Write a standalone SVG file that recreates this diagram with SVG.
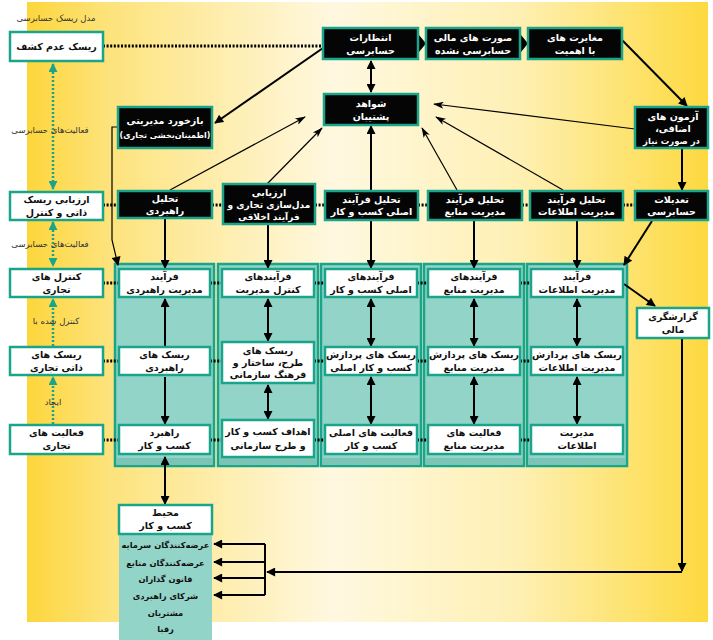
<svg xmlns="http://www.w3.org/2000/svg" width="713" height="640" viewBox="0 0 713 640">
<defs>
<linearGradient id="bg" x1="0" y1="0" x2="1" y2="0">
<stop offset="0" stop-color="#fdd63c"/>
<stop offset="0.12" stop-color="#fde37c"/>
<stop offset="0.45" stop-color="#fff8e0"/>
<stop offset="0.72" stop-color="#fef0b4"/>
<stop offset="1" stop-color="#fdd93f"/>
</linearGradient>
<marker id="ah" viewBox="0 0 10 10" refX="9" refY="5" markerUnits="userSpaceOnUse" markerWidth="10" markerHeight="9" orient="auto-start-reverse"><path d="M0,0 L10,5 L0,10 z" fill="#000"/></marker>
<marker id="ahs" viewBox="0 0 12 8" refX="11" refY="4" markerUnits="userSpaceOnUse" markerWidth="13" markerHeight="7" orient="auto-start-reverse"><path d="M0,0 L12,4 L0,8 L3,4 z" fill="#000"/></marker>
<marker id="aht" viewBox="0 0 10 10" refX="9" refY="5" markerUnits="userSpaceOnUse" markerWidth="9" markerHeight="9" orient="auto-start-reverse"><path d="M0,0 L10,5 L0,10 z" fill="#1aa58a"/></marker>
<style>
text{font-family:"DejaVu Sans",sans-serif;font-weight:bold;text-anchor:middle;direction:rtl;unicode-bidi:embed}
.tw{fill:#fff;font-size:9.5px}
.tb{fill:#111;font-size:9.5px}
.ls{fill:#111;font-size:8.3px}
.lb{fill:#333;font-size:8.5px;font-weight:normal}
.bk{fill:#050505;stroke:#1aa58a;stroke-width:2.5}
.wh{fill:#fff;stroke:#1aa58a;stroke-width:2.5}
.col{fill:#93d4c8;stroke:#1aa58a;stroke-width:2.5}
.ln{fill:none;stroke:#000;stroke-width:2}
.thin{fill:none;stroke:#000;stroke-width:1.2}
.dot{fill:none;stroke:#000;stroke-width:3;stroke-dasharray:2 1.6}
.tdot{fill:none;stroke:#1aa58a;stroke-width:2.5;stroke-dasharray:2 2}
</style>
</defs>
<rect x="0" y="0" width="713" height="640" fill="#fff"/>
<rect x="27" y="2" width="681" height="620" fill="url(#bg)"/>

<g id="columns">
<rect class="col" x="115" y="264" width="99" height="202"/>
<rect class="col" x="218" y="264" width="100" height="202"/>
<rect class="col" x="321" y="264" width="100" height="202"/>
<rect class="col" x="424" y="264" width="100" height="202"/>
<rect class="col" x="527" y="264" width="100" height="202"/>
<rect x="116.5" y="458" width="96" height="6.5" fill="#7cc4b6"/>
<rect x="219.5" y="458" width="97" height="6.5" fill="#7cc4b6"/>
<rect x="322.5" y="458" width="97" height="6.5" fill="#7cc4b6"/>
<rect x="425.5" y="458" width="97" height="6.5" fill="#7cc4b6"/>
<rect x="528.5" y="458" width="97" height="6.5" fill="#7cc4b6"/>
</g>

<g id="connectors">
<path class="dot" d="M103,46 H323"/>
<path class="dot" d="M103,205 H118 M212,205 H223 M315,205 H325 M418,205 H428 M522,205 H530 M623,205 H635"/>
<path class="dot" d="M103,283 H119 M210,283 H222 M314,283 H325 M417,283 H428 M520,283 H531"/>
<path class="dot" d="M103,361 H119 M210,361 H222 M314,361 H325 M417,361 H428 M520,361 H531"/>
<path class="dot" d="M103,440 H119 M210,440 H222 M314,440 H325 M417,440 H428 M520,440 H531"/>
<path class="tdot" d="M53,64 V189" marker-start="url(#aht)" marker-end="url(#aht)"/>
<path class="tdot" d="M53,222 V266" marker-start="url(#aht)" marker-end="url(#aht)"/>
<path class="tdot" d="M53,346 V299" marker-end="url(#aht)"/>
<path class="tdot" d="M53,424 V377" marker-end="url(#aht)"/>
<polygon points="419,35 426,43.5 419,52" fill="#000"/>
<polygon points="521,35 528,43.5 521,52" fill="#000"/>
<path class="ln" d="M323,48 L215,123" marker-end="url(#ah)"/>
<path class="thin" d="M118,127 H112 V240 L118,265" marker-end="url(#ah)"/>
<path class="ln" d="M371,61 V92" marker-start="url(#ah)" marker-end="url(#ah)"/>
<path class="ln" d="M622,40 L687,106" marker-end="url(#ah)"/>
<path class="thin" d="M635,129 L434,104" marker-end="url(#ahs)"/>
<path class="ln" d="M682,149 V190" marker-end="url(#ah)"/>
<path class="ln" d="M652,221 L624,265" marker-end="url(#ah)"/>
<path class="thin" d="M170,190 L305,117" marker-end="url(#ahs)"/>
<path class="thin" d="M267,184 L322,128" marker-end="url(#ahs)"/>
<path class="ln" d="M371,190 V126" marker-end="url(#ah)"/>
<path class="thin" d="M457,190 L422,128" marker-end="url(#ahs)"/>
<path class="thin" d="M563,190 L436,117" marker-end="url(#ahs)"/>
<path class="ln" d="M165,218 V268" marker-end="url(#ah)"/>
<path class="ln" d="M268,225 V268" marker-end="url(#ah)"/>
<path class="ln" d="M371,221 V268" marker-end="url(#ah)"/>
<path class="ln" d="M474,221 V268" marker-end="url(#ah)"/>
<path class="ln" d="M577,221 V268" marker-end="url(#ah)"/>
<path class="ln" d="M165,299 V346 M165,377 V424" marker-start="url(#ah)" marker-end="url(#ah)"/>
<path class="ln" d="M268,299 V341" marker-start="url(#ah)" marker-end="url(#ah)"/>
<path class="ln" d="M268,385 V419" marker-start="url(#ah)" marker-end="url(#ah)"/>
<path class="ln" d="M371,299 V346" marker-start="url(#ah)" marker-end="url(#ah)"/>
<path class="ln" d="M371,377 V424" marker-start="url(#ah)" marker-end="url(#ah)"/>
<path class="ln" d="M474,299 V346" marker-start="url(#ah)" marker-end="url(#ah)"/>
<path class="ln" d="M474,377 V424" marker-start="url(#ah)" marker-end="url(#ah)"/>
<path class="ln" d="M577,299 V346" marker-start="url(#ah)" marker-end="url(#ah)"/>
<path class="ln" d="M577,377 V424" marker-start="url(#ah)" marker-end="url(#ah)"/>
<path class="ln" d="M165,457 V504" marker-start="url(#ah)" marker-end="url(#ah)"/>
<path class="ln" d="M624,284 L655,306" marker-end="url(#ah)"/>
<path class="ln" d="M682,339 V571" marker-end="url(#ah)"/>
<path class="ln" d="M682,572 H267" marker-end="url(#ah)"/>
<path class="ln" d="M265,544 V595"/>
<path class="ln" d="M265,544 H214" marker-end="url(#ah)"/>
<path class="ln" d="M265,562 H214" marker-end="url(#ah)"/>
<path class="ln" d="M265,578 H214" marker-end="url(#ah)"/>
<path class="ln" d="M265,595 H214" marker-end="url(#ah)"/>
</g>

<g id="labels">
<text class="lb" x="56" y="21">مدل ریسک حسابرسی</text>
<text class="lb" x="50" y="133">فعالیت‌های حسابرسی</text>
<text class="lb" x="50" y="247">فعالیت‌های حسابرسی</text>
<text class="lb" x="56" y="324">کنترل شده با</text>
<text class="lb" x="53" y="405">ایجاد</text>
</g>

<g id="n-detect"><rect class="wh" x="10" y="32" width="93" height="29"/><text class="tb" x="56.5" y="50">ریسک عدم کشف</text></g>
<g id="n-assess"><rect class="wh" x="10" y="192" width="93" height="28"/><text class="tb" x="56.5" y="203">ارزیابی ریسک</text><text class="tb" x="56.5" y="216">ذاتی و کنترل</text></g>
<g id="n-controls"><rect class="wh" x="10" y="269" width="93" height="28"/><text class="tb" x="56.5" y="280">کنترل های</text><text class="tb" x="56.5" y="293">تجاری</text></g>
<g id="n-inherent"><rect class="wh" x="10" y="347" width="93" height="28"/><text class="tb" x="56.5" y="358">ریسک های</text><text class="tb" x="56.5" y="371">ذاتی تجاری</text></g>
<g id="n-activities"><rect class="wh" x="10" y="425" width="93" height="29"/><text class="tb" x="56.5" y="436">فعالیت های</text><text class="tb" x="56.5" y="449">تجاری</text></g>

<g id="n-expect"><rect class="bk" x="323" y="28" width="95" height="31"/><text class="tw" x="370.5" y="41">انتظارات</text><text class="tw" x="370.5" y="54">حسابرسی</text></g>
<g id="n-fs"><rect class="bk" x="426" y="28" width="94" height="31"/><text class="tw" x="473" y="41">صورت های مالی</text><text class="tw" x="473" y="54">حسابرسی نشده</text></g>
<g id="n-misstate"><rect class="bk" x="528" y="28" width="94" height="31"/><text class="tw" x="575" y="41">مغایرت های</text><text class="tw" x="575" y="54">با اهمیت</text></g>
<g id="n-evidence"><rect class="bk" x="324" y="94" width="94" height="31"/><text class="tw" x="371" y="107">شواهد</text><text class="tw" x="371" y="120">پشتیبان</text></g>
<g id="n-tests"><rect class="bk" x="635" y="107" width="73" height="41"/><text class="tw" x="673" y="120">آزمون های</text><text class="tw" x="673" y="132">اضافی،</text><text class="tw" x="671.5" y="144" style="font-size:8.5px">در صورت نیاز</text></g>
<g id="n-feedback"><rect class="bk" x="118" y="107" width="94" height="41"/><text class="tw" x="165" y="124">بازخورد مدیریتی</text><text class="tw" x="165" y="138" style="font-size:8px">(اطمینان‌بخشی تجاری)</text></g>

<g id="n-a-strategic"><rect class="bk" x="118" y="191" width="94" height="27"/><text class="tw" x="165" y="202">تحلیل</text><text class="tw" x="165" y="214">راهبردی</text></g>
<g id="n-a-model"><rect class="bk" x="223" y="184" width="92" height="40"/><text class="tw" x="269" y="196">ارزیابی</text><text class="tw" x="269" y="208" style="font-size:9px">مدل‌سازی تجاری و</text><text class="tw" x="269" y="220" style="font-size:9px">فرآیند اخلاقی</text></g>
<g id="n-a-core"><rect class="bk" x="325" y="191" width="93" height="29"/><text class="tw" x="371.5" y="203">تحلیل فرآیند</text><text class="tw" x="371.5" y="215">اصلی کسب و کار</text></g>
<g id="n-a-resource"><rect class="bk" x="428" y="191" width="94" height="29"/><text class="tw" x="475" y="203">تحلیل فرآیند</text><text class="tw" x="475" y="215">مدیریت منابع</text></g>
<g id="n-a-info"><rect class="bk" x="530" y="191" width="93" height="29"/><text class="tw" x="576.5" y="203">تحلیل فرآیند</text><text class="tw" x="576.5" y="215">مدیریت اطلاعات</text></g>
<g id="n-adjust"><rect class="bk" x="635" y="191" width="73" height="29"/><text class="tw" x="671.5" y="203">تعدیلات</text><text class="tw" x="671.5" y="215">حسابرسی</text></g>

<g id="n-c1r1"><rect class="wh" x="119" y="269" width="91" height="28"/><text class="tb" x="164.5" y="280">فرآیند</text><text class="tb" x="164.5" y="293">مدیریت راهبردی</text></g>
<g id="n-c1r2"><rect class="wh" x="119" y="347" width="91" height="28"/><text class="tb" x="164.5" y="358">ریسک های</text><text class="tb" x="164.5" y="371">راهبردی</text></g>
<g id="n-c1r3"><rect class="wh" x="119" y="425" width="91" height="29"/><text class="tb" x="164.5" y="436">راهبرد</text><text class="tb" x="164.5" y="449">کسب و کار</text></g>

<g id="n-c2r1"><rect class="wh" x="222" y="269" width="92" height="28"/><text class="tb" x="268" y="280">فرآیندهای</text><text class="tb" x="268" y="293">کنترل مدیریت</text></g>
<g id="n-c2r2"><rect class="wh" x="222" y="342" width="92" height="41"/><text class="tb" x="268" y="354">ریسک های</text><text class="tb" x="268" y="366">طرح، ساختار و</text><text class="tb" x="268" y="378">فرهنگ سازمانی</text></g>
<g id="n-c2r3"><rect class="wh" x="222" y="420" width="92" height="37"/><text class="tb" x="268" y="435">اهداف کسب و کار</text><text class="tb" x="268" y="449">و طرح سازمانی</text></g>

<g id="n-c3r1"><rect class="wh" x="325" y="269" width="92" height="28"/><text class="tb" x="371" y="280">فرآیندهای</text><text class="tb" x="371" y="293">اصلی کسب و کار</text></g>
<g id="n-c3r2"><rect class="wh" x="325" y="347" width="92" height="28"/><text class="tb" x="371" y="358">ریسک های پردازش</text><text class="tb" x="371" y="371">کسب و کار اصلی</text></g>
<g id="n-c3r3"><rect class="wh" x="325" y="425" width="92" height="29"/><text class="tb" x="371" y="436">فعالیت های اصلی</text><text class="tb" x="371" y="449">کسب و کار</text></g>

<g id="n-c4r1"><rect class="wh" x="428" y="269" width="92" height="28"/><text class="tb" x="474" y="280">فرآیندهای</text><text class="tb" x="474" y="293">مدیریت منابع</text></g>
<g id="n-c4r2"><rect class="wh" x="428" y="347" width="92" height="28"/><text class="tb" x="474" y="358">ریسک های پردازش</text><text class="tb" x="474" y="371">مدیریت منابع</text></g>
<g id="n-c4r3"><rect class="wh" x="428" y="425" width="92" height="29"/><text class="tb" x="474" y="436">فعالیت های</text><text class="tb" x="474" y="449">مدیریت منابع</text></g>

<g id="n-c5r1"><rect class="wh" x="531" y="269" width="92" height="28"/><text class="tb" x="577" y="280">فرآیند</text><text class="tb" x="577" y="293">مدیریت اطلاعات</text></g>
<g id="n-c5r2"><rect class="wh" x="531" y="347" width="92" height="28"/><text class="tb" x="577" y="358">ریسک های پردازش</text><text class="tb" x="577" y="371">مدیریت اطلاعات</text></g>
<g id="n-c5r3"><rect class="wh" x="531" y="425" width="92" height="29"/><text class="tb" x="577" y="436">مدیریت</text><text class="tb" x="577" y="449">اطلاعات</text></g>

<g id="n-reporting"><rect class="wh" x="637" y="308" width="72" height="30"/><text class="tb" x="673" y="320">گزارشگری</text><text class="tb" x="673" y="333">مالی</text></g>

<g id="n-env">
<rect x="119" y="534" width="93" height="106" fill="#93d4c8"/>
<rect class="wh" x="119" y="505" width="93" height="29"/>
<text class="tb" x="165.5" y="516">محیط</text><text class="tb" x="165.5" y="529">کسب و کار</text>
<text class="ls" x="165.5" y="548">عرضه‌کنندگان سرمایه</text>
<text class="ls" x="165.5" y="566">عرضه‌کنندگان منابع</text>
<text class="ls" x="165.5" y="582">قانون گذاران</text>
<text class="ls" x="165.5" y="599">شرکای راهبردی</text>
<text class="ls" x="165.5" y="616">مشتریان</text>
<text class="ls" x="165.5" y="632">رقبا</text>
</g>
</svg>
